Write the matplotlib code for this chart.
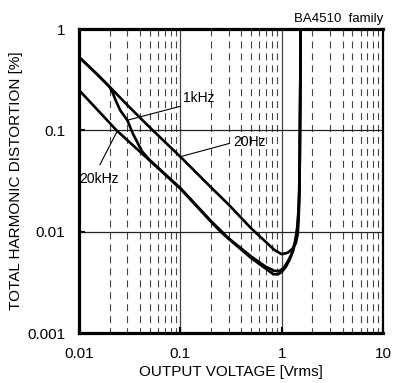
import numpy as np
import matplotlib
matplotlib.use("Agg")
import matplotlib.pyplot as plt

plt.rcParams['font.family'] = ['Liberation Sans', 'DejaVu Sans']
plt.rcParams['lines.scale_dashes'] = False

# output voltage [Vrms] / THD [%]
v_20hz = [0.01, 0.015, 0.02, 0.03, 0.05, 0.1, 0.2, 0.3, 0.5, 0.7, 0.85, 1.0,
          1.15, 1.28, 1.38, 1.44, 1.47, 1.49, 1.51, 1.54]
thd_20hz = [0.53, 0.36, 0.27, 0.178, 0.107, 0.055, 0.0275, 0.0185, 0.0108, 0.0079,
            0.0066, 0.006, 0.0062, 0.0068, 0.0077, 0.0095, 0.013, 0.02, 0.05, 1.0]

v_1khz = [0.01, 0.015, 0.02, 0.0215, 0.023, 0.0255, 0.03, 0.034, 0.038, 0.042,
          0.05, 0.1, 0.2, 0.3, 0.5, 0.7, 0.85, 0.95, 1.05, 1.15, 1.25, 1.35,
          1.42, 1.47, 1.5, 1.54]
thd_1khz = [0.53, 0.36, 0.27, 0.235, 0.198, 0.158, 0.126, 0.093, 0.075, 0.062,
            0.0508, 0.027, 0.0128, 0.0086, 0.0057, 0.0045, 0.0041, 0.0041, 0.0044,
            0.0051, 0.006, 0.0078, 0.0105, 0.016, 0.03, 1.0]

v_20khz = [0.01, 0.015, 0.02, 0.0235, 0.03, 0.05, 0.1, 0.2, 0.25, 0.3, 0.5, 0.7,
           0.83, 0.92, 1.0, 1.1, 1.2, 1.3, 1.38, 1.44, 1.48, 1.51, 1.54]
thd_20khz = [0.25, 0.162, 0.119, 0.1, 0.08, 0.0503, 0.0266, 0.0126, 0.01, 0.0085,
             0.0055, 0.0043, 0.0038, 0.0038, 0.004, 0.0045, 0.0053, 0.0065, 0.0085,
             0.012, 0.02, 0.05, 1.0]

x_ticks = [0.01, 0.1, 1, 10]
x_labels = ['0.01', '0.1', '1', '10']
y_ticks = [0.001, 0.01, 0.1, 1]
y_labels = ['0.001', '0.01', '0.1', '1']

fig = plt.figure(figsize=(3.95, 3.83), dpi=100)
ax = fig.add_axes([0.2, 0.1305, 0.7696, 0.7935])
ax.set_xscale('log')
ax.set_yscale('log')
ax.set_xlim(0.01, 10)
ax.set_ylim(0.001, 1)

# minor dashed verticals
for dec in [0.01, 0.1, 1]:
    for m in range(2, 10):
        ax.vlines(dec * m, 1, 0.001, colors='#444444', lw=0.8,
                  linestyles=(0, (5, 3.6)), zorder=1)
# major grid
for xv in [0.1, 1]:
    ax.axvline(xv, color='#444444', lw=0.9, zorder=1)
for yv in [0.01, 0.1]:
    ax.axhline(yv, color='#222222', lw=0.9, zorder=1)

for v, t in [(v_20hz, thd_20hz), (v_1khz, thd_1khz), (v_20khz, thd_20khz)]:
    ax.plot(v, t, color='black', lw=1.9, zorder=3)

# leaders and labels
ax.plot([0.0299, 0.1], [0.126, 0.173], color='black', lw=0.8, zorder=3)
ax.text(0.1068, 0.207, '1kHz', fontsize=10, va='center', ha='left')
ax.plot([0.1, 0.305], [0.055, 0.0744], color='black', lw=0.8, zorder=3)
ax.text(0.334, 0.076, '20Hz', fontsize=10, va='center', ha='left')
ax.plot([0.0238, 0.0161], [0.098, 0.046], color='black', lw=0.8, zorder=3)
ax.text(0.0101, 0.0334, '20kHz', fontsize=10, va='center', ha='left')

ax.text(1.0, 1.012, 'BA4510  family', fontsize=9.5, ha='right', va='bottom',
        transform=ax.transAxes)

ax.set_xticks(x_ticks)
ax.set_xticklabels(x_labels)
ax.set_yticks(y_ticks)
ax.set_yticklabels(y_labels)
ax.minorticks_off()
ax.tick_params(direction='in', length=4, width=1.5, labelsize=11, pad=10)
ax.tick_params(axis='y', pad=10)

for side in ['left', 'bottom', 'top']:
    ax.spines[side].set_linewidth(2.3)
ax.spines['right'].set_linewidth(1.6)

ax.set_xlabel('OUTPUT VOLTAGE [Vrms]', fontsize=11, labelpad=3)
ax.set_ylabel('TOTAL HARMONIC DISTORTION [%]', fontsize=11, labelpad=3)

fig.savefig('out.png', dpi=100)
